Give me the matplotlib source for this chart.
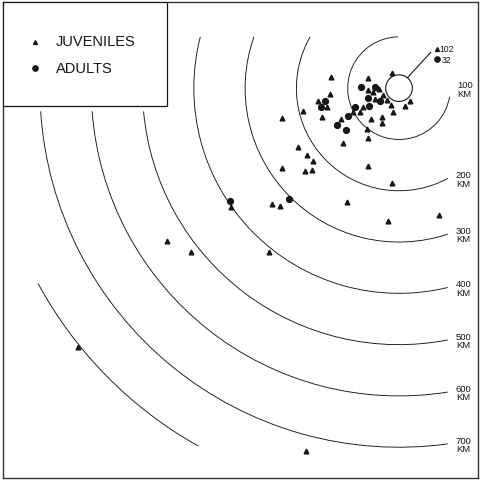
import numpy as np
import matplotlib.pyplot as plt
from matplotlib.patches import Arc, Circle, Rectangle

plt.rcParams['font.family'] = ['Liberation Sans', 'DejaVu Sans']

# recapture points, km east (x) and north (y) of the release site
juv_x = [-14, -60, -133, -39, -60, -51, -31, -135, -47, -23, 21, -158, -140, -16,
         12, -70, -76, -90, -12, -55, -33, -33, -113, -62, -60, -150, -109, -187,
         -228, -197, -179, -168, -228, -183, -170, -60, -14, -101, -248, -232,
         -328, -21, 78, -254, -452, -406, -626, -181]
juv_y = [29, 20, 21, -2, -4, -8, -14, -12, -21, -23, -25, -25, -37, -33,
         -35, -37, -47, -47, -47, -60, -57, -68, -60, -80, -98, -57, -107, -45,
         -58, -115, -131, -142, -156, -162, -160, -152, -185, -222, -226, -230,
         -232, -259, -248, -320, -298, -320, -505, -708]

adult_x = [-74, -47, -60, -37, -58, -86, -100, -121, -103, -144, -152, -214, -330]
adult_y = [2, 2, -20, -25, -35, -37, -55, -72, -82, -25, -37, -216, -220]

# animals recovered at the release site itself
site_juveniles = 102
site_adults = 32

ring_km = [100, 200, 300, 400, 500, 600, 700, 800]
ring_labels = ['100\nKM', '200\nKM', '300\nKM', '400\nKM', '500\nKM',
               '600\nKM', '700\nKM', None]

# where each arc starts (degrees) and how far right it runs
ring_start = [91, 150, 160.5, 165.5, 185.2, 184.3, 183.7, 208.4]
ring_end_x = 95
INK = '#161616'


def ring_end_angle(r, i):
    if i == 0:
        return 350.5
    if i == len(ring_km) - 1:
        return 240.7
    return 360 - np.degrees(np.arccos(ring_end_x / r))


def draw_rings(ax):
    for i, r in enumerate(ring_km):
        t2 = ring_end_angle(r, i)
        ax.add_patch(Arc((0, 0), 2 * r, 2 * r, theta1=ring_start[i], theta2=t2,
                         color=INK, lw=0.65))
        if ring_labels[i] is None:
            continue
        ye = r * np.sin(np.radians(t2))
        lx, ly = (128, -2) if i == 0 else (126, ye - 1)
        ax.text(lx, ly, ring_labels[i], ha='center', va='center', fontsize=6.8,
                linespacing=0.95, color=INK)


def draw_site(ax):
    ax.add_patch(Circle((0, 0), 26, facecolor='white', edgecolor=INK, lw=0.8, zorder=4))
    ax.plot([16, 62], [20, 70], color=INK, lw=0.8)
    ax.plot([74], [77], marker='^', ms=2.8, color=INK, ls='none')
    ax.text(79, 77, str(site_juveniles), fontsize=6.2, va='center', color=INK)
    ax.plot([74], [56], marker='o', ms=3.8, color=INK, ls='none')
    ax.text(84, 56, str(site_adults), fontsize=6.2, va='center', color=INK)


def draw_legend(ax):
    ax.add_patch(Rectangle((0, 0.7815), 0.345, 0.2185, transform=ax.transAxes,
                           facecolor='white', edgecolor=INK, lw=0.9, zorder=5))
    ax.plot([0.0674], [0.916], marker='^', ms=2.8, color=INK, transform=ax.transAxes, zorder=6)
    ax.plot([0.0674], [0.861], marker='o', ms=3.8, color=INK, transform=ax.transAxes, zorder=6)
    ax.text(0.111, 0.918, 'JUVENILES', transform=ax.transAxes, fontsize=10.5,
            va='center', color=INK, zorder=6)
    ax.text(0.111, 0.862, 'ADULTS', transform=ax.transAxes, fontsize=10.5,
            va='center', color=INK, zorder=6)


fig = plt.figure(figsize=(4.81, 4.81), dpi=100)
ax = fig.add_axes([3 / 481, 2 / 481, 475 / 481, 476 / 481])
ax.set_xlim(-772, 154)
ax.set_ylim(-760, 168)
ax.set_xticks([])
ax.set_yticks([])
for s in ax.spines.values():
    s.set_linewidth(1.0)
    s.set_color('#333333')

draw_rings(ax)
ax.plot(juv_x, juv_y, '^', ms=3.4, color=INK, zorder=3)
ax.plot(adult_x, adult_y, 'o', ms=4.2, color=INK, zorder=3)
draw_site(ax)
draw_legend(ax)

plt.savefig('out.png', dpi=100)
